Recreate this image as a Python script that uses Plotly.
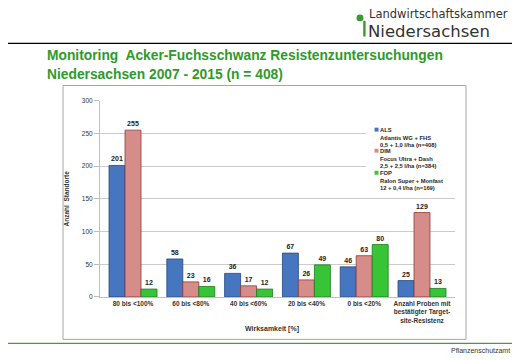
import plotly.graph_objects as go

# ---- data ----
categories = ["80 bis <100%", "60 bis <80%", "40 bis <60%", "20 bis <40%", "0 bis <20%",
              "Anzahl Proben mit<br>bestätigter Target-<br>site-Resistenz"]
als_values = [201, 58, 36, 67, 46, 25]
dim_values = [255, 23, 17, 26, 63, 129]
fop_values = [12, 16, 12, 49, 80, 13]
series_names = ["ALS", "DIM", "FOP"]
series_details = ["Atlantis WG + FHS<br>0,5 + 1,0 l/ha (n=408)",
                  "Focus Ultra + Dash<br>2,5 + 2,5 l/ha (n=384)",
                  "Ralon Super + Monfast<br>12 + 0,4 l/ha (n=169)"]
y_tick_values = [0, 50, 100, 150, 200, 250, 300]

# page has an 8px body margin: figure coords = page coords - 8
OFF = 8
W, H = 512, 352
def px(x):
    return (x - OFF) / W
def py(y):
    return 1 - (y - OFF) / H

CH_FONT = "Liberation Sans Narrow, Arial Narrow, Liberation Sans, Arial, sans-serif"
GREEN = "#2f9a2a"

fills = ["#4676c0", "#d68c89", "#37c537"]
edges = ["#23467e", "#8f3b38", "#1d7a1d"]

fig = go.Figure()
for name, det, vals, fc, ec in zip(series_names, series_details,
                                   [als_values, dim_values, fop_values], fills, edges):
    fig.add_trace(go.Bar(
        x=categories, y=vals, name=name + "<br>" + det,
        marker=dict(color=fc, line=dict(color=ec, width=0.8)),
        text=vals, textposition="outside", constraintext="none",
        textfont=dict(family=CH_FONT, size=7, color="#222222", weight="bold"),
        cliponaxis=False, showlegend=False,
    ))

fig.update_layout(
    width=W, height=H,
    margin=dict(l=0, r=0, t=0, b=0),
    paper_bgcolor="white", plot_bgcolor="white",
    barmode="group", bargap=0.17, bargroupgap=0,
    xaxis=dict(domain=[px(100), px(455)], range=[-0.571, 5.571],
               showline=True, linecolor="#bfbfbf", linewidth=1,
               tickfont=dict(family=CH_FONT, size=6.5, color="#333333", weight="bold"),
               ticks="", showgrid=False),
    yaxis=dict(domain=[py(298.7), py(98.5)], range=[0, 300],
               tickvals=y_tick_values, showgrid=True, gridcolor="#cccccc", gridwidth=1,
               showline=True, linecolor="#bfbfbf", linewidth=1,
               ticks="outside", ticklen=5, tickcolor="#bfbfbf",
               tickfont=dict(family=CH_FONT, size=6.5, color="#333333"),
               zeroline=False,
               title=dict(text="Anzahl  Standorte", standoff=11,
                          font=dict(family=CH_FONT, size=6.5, color="#333333", weight="bold"))),
)

shapes = [
    dict(type="rect", xref="paper", yref="paper", x0=px(63), x1=px(466), y0=py(342), y1=py(83),
         line=dict(color="#a6a6a6", width=1), fillcolor="rgba(0,0,0,0)", layer="below"),
    dict(type="line", xref="paper", yref="paper", x0=px(8), x1=px(512), y0=py(40), y1=py(40),
         line=dict(color="black", width=1.3)),
    dict(type="line", xref="paper", yref="paper", x0=px(8), x1=px(512), y0=py(346), y1=py(346),
         line=dict(color="#4e9a2f", width=1.2)),
    dict(type="circle", xref="paper", yref="paper", x0=px(356.5), x1=px(363.5), y0=py(17.5), y1=py(10.5),
         line=dict(width=0), fillcolor="#3a9a30"),
    dict(type="rect", xref="paper", yref="paper", x0=px(363.2), x1=px(365.6), y0=py(33), y1=py(17),
         line=dict(width=0), fillcolor="#3a9a30"),
    # legend background (interrupts gridlines)
    dict(type="rect", xref="paper", yref="paper", x0=px(366), x1=px(455), y0=py(193), y1=py(121),
         line=dict(width=0), fillcolor="white", layer="above"),
]

annotations = [
    dict(text="Monitoring  Acker-Fuchsschwanz Resistenzuntersuchungen", x=px(46), y=py(52),
         xanchor="left", yanchor="middle",
         font=dict(family="Liberation Sans, Arial, sans-serif", size=13.8, color=GREEN, weight="bold")),
    dict(text="Niedersachsen 2007 - 2015 (n = 408)", x=px(46), y=py(72),
         xanchor="left", yanchor="middle",
         font=dict(family="Liberation Sans, Arial, sans-serif", size=13.8, color=GREEN, weight="bold")),
    dict(text="Landwirtschaftskammer", x=px(368), y=py(10.5), xanchor="left", yanchor="middle",
         font=dict(family="DejaVu Sans, sans-serif", size=11.5, color="#333333")),
    dict(text="Niedersachsen", x=px(367), y=py(27.5), xanchor="left", yanchor="middle",
         font=dict(family="DejaVu Sans, sans-serif", size=16.5, color="#333333")),
    dict(text="Wirksamkeit [%]", x=px(272), y=py(331), xanchor="center", yanchor="middle",
         font=dict(family=CH_FONT, size=7, color="#333333", weight="bold")),
    dict(text="Pflanzenschutzamt", x=px(511), y=py(353), xanchor="right", yanchor="middle",
         font=dict(family="Liberation Sans, Arial, sans-serif", size=7, color="#333333")),
]

# manual legend: small squares + three text lines per series
legend_first_line_y = [128, 149.5, 172]
for name, det, fc, ly in zip(series_names, series_details, fills, legend_first_line_y):
    shapes.append(dict(type="rect", xref="paper", yref="paper",
                       x0=px(374.5), x1=px(378.5), y0=py(ly + 2), y1=py(ly - 2),
                       line=dict(width=0), fillcolor=fc, layer="above"))
    annotations.append(dict(text=name + "<br>" + det, x=px(379), y=py(ly - 3.9),
                            xanchor="left", yanchor="top", align="left",
                            font=dict(family=CH_FONT, size=5.8, color="#262626", weight="bold")))

for a in annotations:
    a.update(xref="paper", yref="paper", showarrow=False, borderpad=0)
fig.update_layout(shapes=shapes, annotations=annotations, showlegend=False)

fig.write_html("out.html")
